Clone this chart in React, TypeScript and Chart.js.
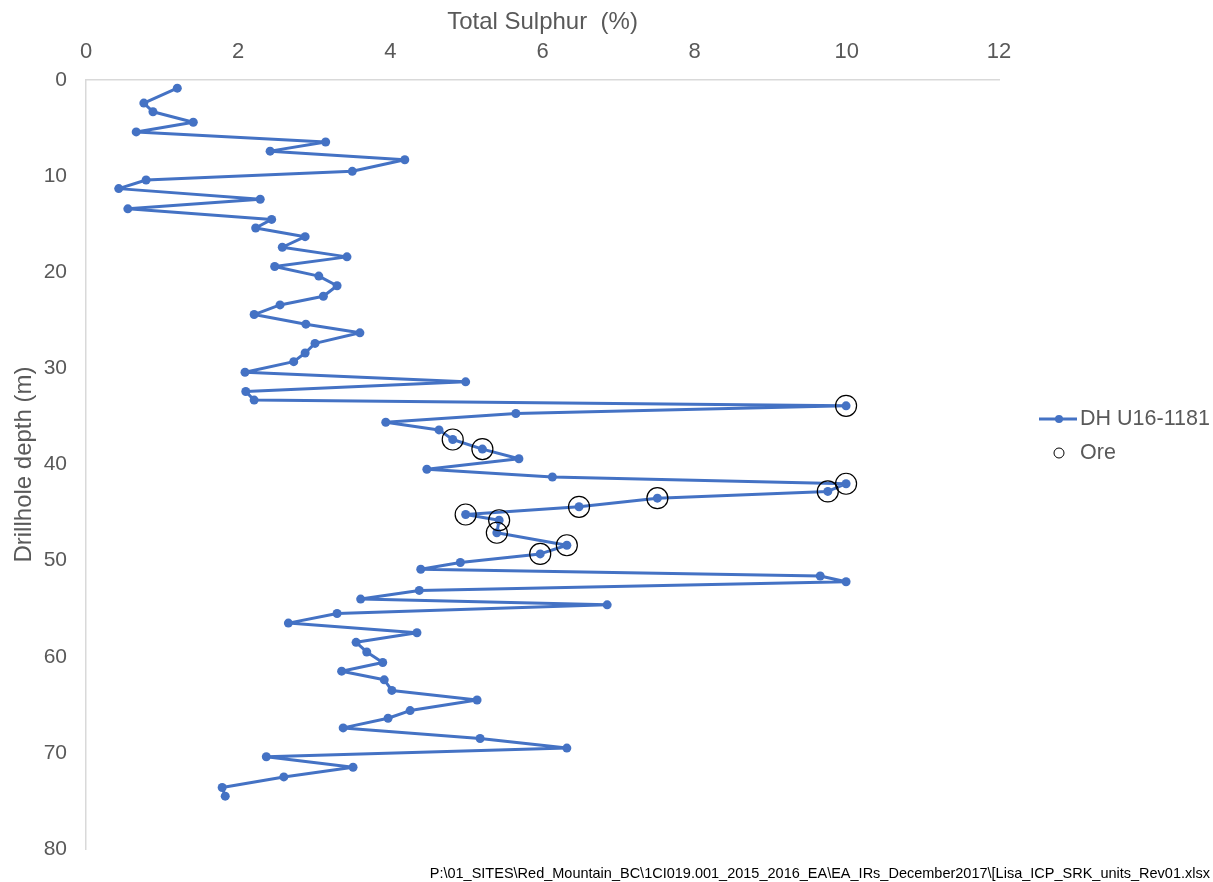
import React, { useEffect, useRef } from 'react';
import { Chart, registerables } from 'chart.js';

Chart.register(...registerables);

// Drillhole depth (m) of each sample
const depth = [
  0.85, 2.4, 3.3, 4.4, 5.4, 6.45, 7.4, 8.3, 9.5, 10.4,
  11.3, 12.4, 13.4, 14.5, 15.4, 16.3, 17.4, 18.4, 19.4, 20.4,
  21.4, 22.5, 23.4, 24.4, 25.4, 26.3, 27.4, 28.4, 29.3, 30.4,
  31.4, 32.4, 33.3, 33.9, 34.7, 35.6, 36.4, 37.4, 38.4, 39.4,
  40.5, 41.3, 42.0, 42.8, 43.5, 44.4, 45.2, 45.8, 47.1, 48.4,
  49.3, 50.2, 50.9, 51.6, 52.2, 53.1, 54.0, 54.6, 55.5, 56.5,
  57.5, 58.5, 59.5, 60.6, 61.5, 62.4, 63.5, 64.5, 65.6, 66.4,
  67.4, 68.5, 69.5, 70.4, 71.5, 72.5, 73.6, 74.5,
];

// Total sulphur (%) of each sample
const sulphur = [
  1.20, 0.76, 0.88, 1.41, 0.66, 3.15, 2.42, 4.19, 3.50, 0.79,
  0.43, 2.29, 0.55, 2.44, 2.23, 2.88, 2.58, 3.43, 2.48, 3.06,
  3.30, 3.12, 2.55, 2.21, 2.89, 3.60, 3.01, 2.88, 2.73, 2.09,
  4.99, 2.10, 2.21, 9.99, 5.65, 3.94, 4.64, 4.82, 5.21, 5.69,
  4.48, 6.13, 9.99, 9.75, 7.51, 6.48, 4.99, 5.43, 5.40, 6.32,
  5.97, 4.92, 4.40, 9.65, 9.99, 4.38, 3.61, 6.85, 3.30, 2.66,
  4.35, 3.55, 3.69, 3.90, 3.36, 3.92, 4.02, 5.14, 4.26, 3.97,
  3.38, 5.18, 6.32, 2.37, 3.51, 2.60, 1.79, 1.83,
];

// Ore samples
const oreDepth = [33.9, 37.4, 38.4, 42.0, 42.8, 43.5, 44.4, 45.2, 45.8, 47.1, 48.4, 49.3];
const oreSulphur = [9.99, 4.82, 5.21, 9.99, 9.75, 7.51, 6.48, 4.99, 5.43, 5.40, 6.32, 5.97];

const seriesName = 'DH U16-1181';
const oreName = 'Ore';
const xTitle = 'Total Sulphur  (%)';
const yTitle = 'Drillhole depth (m)';
const sourceNote =
  'P:\\01_SITES\\Red_Mountain_BC\\1CI019.001_2015_2016_EA\\EA_IRs_December2017\\[Lisa_ICP_SRK_units_Rev01.xlsx';

const FONT = '"Liberation Sans", Arial, sans-serif';
const BLUE = '#4472C4';
const GREY = '#595959';

const W = 1213;
const H = 882;

const overlayPlugin = {
  id: 'overlay',
  afterDraw(chart: any) {
    const { ctx, chartArea } = chart;
    ctx.save();
    const lx = chartArea.right + 40;
    const y1 = 419;
    const y2 = 453;
    // series 1 legend: line with a marker
    ctx.strokeStyle = BLUE;
    ctx.lineWidth = 3;
    ctx.beginPath();
    ctx.moveTo(lx, y1);
    ctx.lineTo(lx + 38, y1);
    ctx.stroke();
    ctx.fillStyle = BLUE;
    ctx.beginPath();
    ctx.arc(lx + 20, y1, 4, 0, Math.PI * 2);
    ctx.fill();
    // ore legend: open circle
    ctx.strokeStyle = '#000000';
    ctx.lineWidth = 1;
    ctx.beginPath();
    ctx.arc(lx + 20, y2, 5, 0, Math.PI * 2);
    ctx.stroke();
    ctx.fillStyle = GREY;
    ctx.font = `21.5px ${FONT}`;
    ctx.textAlign = 'left';
    ctx.textBaseline = 'middle';
    ctx.fillText(seriesName, lx + 41, y1);
    ctx.fillText(oreName, lx + 41, y2);
    // source note
    ctx.fillStyle = '#000000';
    ctx.font = `14.5px ${FONT}`;
    ctx.textAlign = 'right';
    ctx.textBaseline = 'alphabetic';
    ctx.fillText(sourceNote, W - 3, 878);
    ctx.restore();
  },
};

export default function App() {
  const ref = useRef<HTMLCanvasElement | null>(null);

  useEffect(() => {
    if (!ref.current) return;
    const chart = new Chart(ref.current, {
      type: 'scatter',
      data: {
        datasets: [
          {
            label: seriesName,
            data: depth.map((d, i) => ({ x: sulphur[i], y: d })),
            showLine: true,
            borderColor: BLUE,
            backgroundColor: BLUE,
            borderWidth: 3,
            borderJoinStyle: 'round',
            borderCapStyle: 'round',
            pointRadius: 4.5,
            pointHoverRadius: 4.5,
            pointBorderWidth: 0,
            order: 1,
          },
          {
            label: oreName,
            data: oreDepth.map((d, i) => ({ x: oreSulphur[i], y: d })),
            showLine: false,
            borderColor: '#000000',
            backgroundColor: 'rgba(0,0,0,0)',
            borderWidth: 1.2,
            pointRadius: 10.5,
            pointHoverRadius: 10.5,
            order: 0,
          },
        ],
      },
      options: {
        responsive: false,
        animation: false,
        layout: { padding: { left: 0, top: 0, right: 214, bottom: 33 } },
        plugins: {
          legend: { display: false },
          tooltip: { enabled: false },
        },
        scales: {
          x: {
            type: 'linear',
            position: 'top',
            min: 0,
            max: 12,
            grid: { display: false, drawTicks: false },
            border: { display: true, color: '#D9D9D9', width: 1.5 },
            ticks: {
              stepSize: 2,
              color: GREY,
              padding: 15,
              font: { family: FONT, size: 22 },
            },
            title: {
              display: true,
              text: xTitle,
              color: GREY,
              padding: { top: 8, bottom: 0 },
              font: { family: FONT, size: 24 },
            },
            afterFit: (s: any) => {
              s.height = 80;
            },
          },
          y: {
            type: 'linear',
            reverse: true,
            min: 0,
            max: 80,
            grid: { display: false, drawTicks: false },
            border: { display: true, color: '#D9D9D9', width: 1.5 },
            ticks: {
              stepSize: 10,
              color: GREY,
              padding: 19,
              font: { family: FONT, size: 21 },
            },
            title: {
              display: true,
              text: yTitle,
              color: GREY,
              padding: { top: 10, bottom: 0 },
              font: { family: FONT, size: 24 },
            },
            afterFit: (s: any) => {
              s.width = 86;
            },
          },
        },
      },
      plugins: [overlayPlugin],
    } as any);
    return () => chart.destroy();
  }, []);

  return (
    <div style={{ position: 'fixed', left: 0, top: 0, width: W, height: H, background: '#fff' }}>
      <canvas ref={ref} width={W} height={H} style={{ display: 'block' }} />
    </div>
  );
}
